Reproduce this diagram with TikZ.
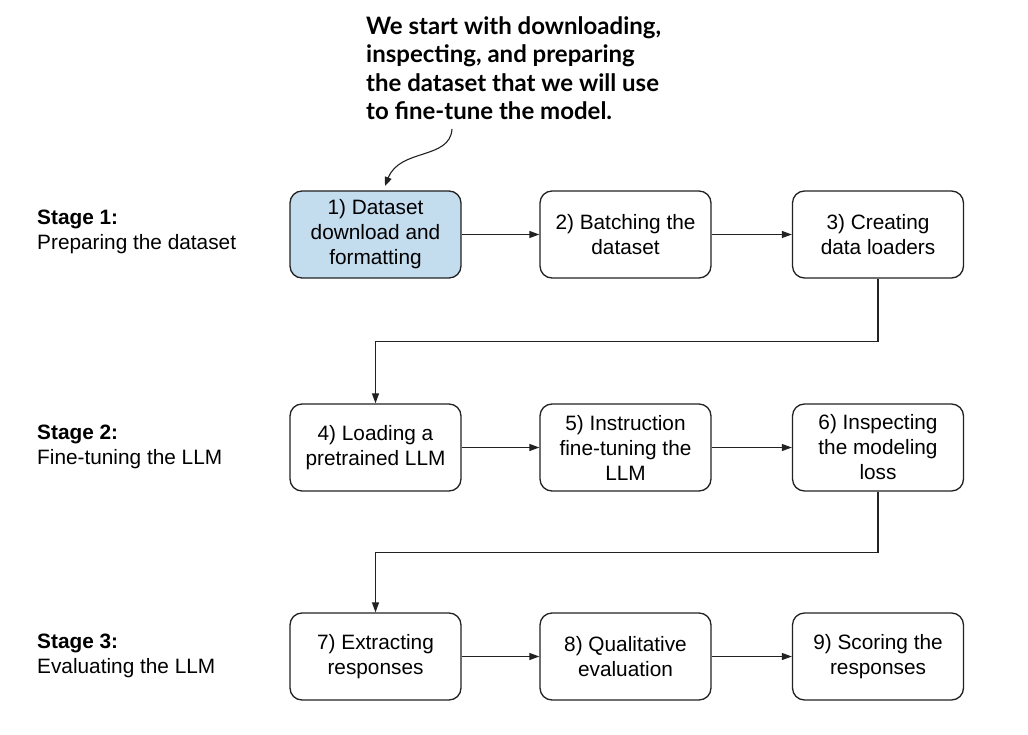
\documentclass[tikz,border=0pt]{standalone}
\usepackage{fontspec}
\setmainfont{Liberation Sans}
\newfontfamily\notefont{Lato}
\usetikzlibrary{arrows.meta}
\definecolor{boxblue}{HTML}{C3DCEE}
\definecolor{linegray}{HTML}{222222}
\tikzset{
  stepbox/.style={draw=linegray, line width=1.3pt, rounded corners=12pt, minimum width=171pt, minimum height=87pt, align=center, font=\fontsize{20.8}{25}\selectfont, inner sep=0pt},
  conn/.style={draw=linegray, line width=1.2pt, -{Triangle[length=10pt,width=7pt]}},
  stagelbl/.style={anchor=north west, align=left, font=\fontsize{20.8}{25}\selectfont, inner sep=0pt},
}
\begin{document}
\begin{tikzpicture}[x=1pt,y=-1pt]
\useasboundingbox (0,0) rectangle (1028,735);
% boxes
\node[stepbox, fill=boxblue] (b1) at (375.5,234.5) {1) Dataset\\download and\\formatting};
\node[stepbox] (b2) at (625.5,234.5) {2) Batching the\\dataset};
\node[stepbox] (b3) at (878,234.5) {3) Creating\\data loaders};
\node[stepbox] (b4) at (375.5,447.5) {4) Loading a\\pretrained LLM};
\node[stepbox] (b5) at (625.5,447.5) {5) Instruction\\fine-tuning the\\LLM};
\node[stepbox] (b6) at (878,447.5) {6) Inspecting\\the modeling\\loss};
\node[stepbox] (b7) at (375.5,656.5) {7) Extracting\\responses};
\node[stepbox] (b8) at (625.5,656.5) {8) Qualitative\\evaluation};
\node[stepbox] (b9) at (878,656.5) {9) Scoring the\\responses};
% stage labels
\node[stagelbl] (s1) at (37,210) {\textbf{Stage 1:}\\Preparing the dataset};
\node[stagelbl] (s2) at (37,425) {\textbf{Stage 2:}\\Fine-tuning the LLM};
\node[stagelbl] (s3) at (37,634) {\textbf{Stage 3:}\\Evaluating the LLM};
% connectors
\draw[conn] (b1) -- (b2);
\draw[conn] (b2) -- (b3);
\draw[conn] (b4) -- (b5);
\draw[conn] (b5) -- (b6);
\draw[conn] (b7) -- (b8);
\draw[conn] (b8) -- (b9);
\draw[conn] (b3.south) -- ++(0,63) -| (b4.north);
\draw[conn] (b6.south) -- ++(0,61) -| (b7.north);
% annotation
\node[anchor=north west, align=left, inner sep=0pt, font=\notefont\bfseries\fontsize{24}{28.5}\selectfont] (note) at (366,16) {We start with downloading,\\inspecting, and preparing\\the dataset that we will use\\to fine-tune the model.};
\coordinate (ns) at (452,129);
\coordinate (ne) at (385,186);
\draw[draw=linegray, line width=1.1pt, -{Triangle[length=9pt,width=7pt]}] (ns) .. controls (450,160) and (400,148) .. (ne);
\end{tikzpicture}
\end{document}
